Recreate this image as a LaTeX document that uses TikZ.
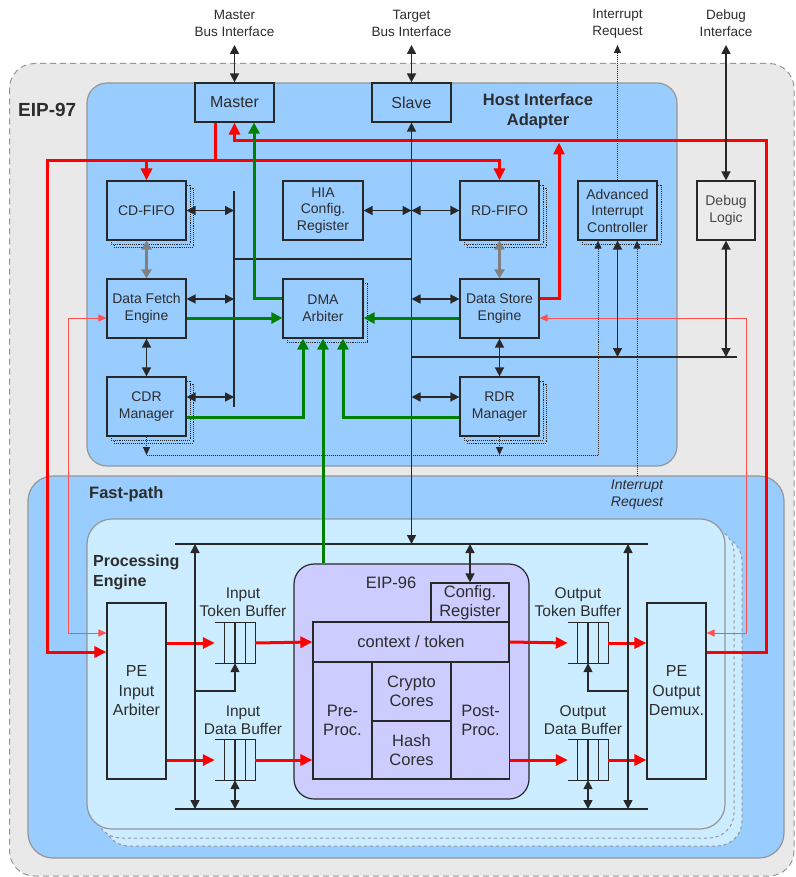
\documentclass[tikz,border=0pt]{standalone}
\usepackage{fontspec}
\setmainfont{Liberation Sans}
\usetikzlibrary{arrows.meta,calc}
\definecolor{outerbg}{RGB}{233,233,233}
\definecolor{hiabg}{RGB}{153,204,255}
\definecolor{pebg}{RGB}{204,236,255}
\definecolor{eipbg}{RGB}{204,204,255}
\definecolor{txt}{RGB}{45,45,45}
\definecolor{brd}{RGB}{40,40,40}
\definecolor{grn}{RGB}{0,128,0}
\definecolor{rd}{RGB}{255,0,0}
\definecolor{thinrd}{RGB}{255,80,80}
\definecolor{cgray}{RGB}{150,150,150}
\definecolor{arrgray}{RGB}{128,128,128}
\definecolor{dbgbg}{RGB}{235,235,235}
\newcommand\shrect[6]{\draw[#6] ({#1-#3/2+#5},{#2-#4/2+#5}) rectangle ({#1+#3/2+#5},{#2+#4/2+#5});}
\newcommand\fifobuf[3]{%
  \node[fifo] (#1) at (#2,#3) {};
  \draw[fifoline] (#1.north west) -- (#1.north east) -- (#1.south east) -- (#1.south west)
    ($(#1.north west)!0.25!(#1.north east)$) -- ($(#1.south west)!0.25!(#1.south east)$)
    ($(#1.north west)!0.5!(#1.north east)$) -- ($(#1.south west)!0.5!(#1.south east)$)
    ($(#1.north west)!0.75!(#1.north east)$) -- ($(#1.south west)!0.75!(#1.south east)$);}
\tikzset{
  blk/.style={draw=brd, line width=1.2pt, fill=hiabg, text=txt, align=center, inner sep=0pt, font=\fontsize{14}{16.5}\selectfont},
  eipblk/.style={draw=brd, line width=1.2pt, fill=eipbg, text=txt, align=center, inner sep=0pt, font=\fontsize{16.5}{19.5}\selectfont},
  peblk/.style={draw=brd, line width=1.2pt, fill=pebg, text=txt, align=center, inner sep=0pt, font=\fontsize{16}{19.5}\selectfont},
  lbl/.style={text=txt, align=center, inner sep=0pt, font=\fontsize{13.5}{17}\selectfont},
  buflbl/.style={text=txt, align=center, inner sep=0pt, font=\fontsize{15.5}{18}\selectfont},
  title/.style={text=txt, align=left, inner sep=0pt, font=\bfseries\fontsize{16.5}{20}\selectfont},
  stackline/.style={draw=brd, densely dotted, line width=0.9pt, fill=hiabg},
  fifo/.style={minimum width=40pt, minimum height=40pt, inner sep=0pt},
  fifoline/.style={draw=brd, line width=1.1pt},
  busline/.style={line width=1.5pt, draw=brd},
  blackarr/.style={line width=1.5pt, draw=brd, {Triangle[length=9pt,width=9pt]}-{Triangle[length=9pt,width=9pt]}},
  blackone/.style={line width=1.5pt, draw=brd, -{Triangle[length=9pt,width=9pt]}},
  redline/.style={line width=3pt, draw=rd},
  redarr/.style={line width=3pt, draw=rd, -{Triangle[length=12pt,width=11pt]}},
  grnarr/.style={line width=3pt, draw=grn, -{Triangle[length=11pt,width=11pt]}},
  thinred/.style={line width=1pt, draw=thinrd, {Triangle[length=8pt,width=7pt]}-{Triangle[length=8pt,width=7pt]}},
  grayarr/.style={line width=3pt, draw=arrgray, {Triangle[length=9pt,width=10pt]}-{Triangle[length=9pt,width=10pt]}},
  dotarr/.style={line width=1pt, densely dotted, draw=brd, -{Triangle[length=8pt,width=7pt]}},
  dotline/.style={line width=1pt, densely dotted, draw=brd}
}
\begin{document}
\begin{tikzpicture}[x=1pt,y=-1pt]
\useasboundingbox (0,0) rectangle (795,877);
% containers
\draw[fill=outerbg, draw=cgray, line width=1pt, dash pattern=on 6pt off 4pt, rounded corners=25pt] (9.5,63.5) rectangle (794,876);
\draw[fill=hiabg, draw=cgray, line width=1.2pt, rounded corners=20pt] (87,83) rectangle (677,466);
\draw[fill=hiabg, draw=cgray, line width=1.2pt, rounded corners=25pt] (28,476) rectangle (784,858);
\draw[fill=pebg, draw=cgray, line width=1pt, dashed, rounded corners=25pt] (104,536) rectangle (742,846);
\draw[fill=pebg, draw=cgray, line width=1pt, dashed, rounded corners=25pt] (96,528) rectangle (734,838);
\draw[fill=pebg, draw=cgray, line width=1.2pt, rounded corners=25pt] (87,519) rectangle (725,829);
\node[draw=brd, line width=1.2pt, fill=eipbg, rounded corners=20pt, minimum width=235pt, minimum height=235pt, inner sep=0pt] (eip) at (411.5,681.5) {};

% titles
\node[title, anchor=west, font=\bfseries\fontsize{19}{22}\selectfont] (t97) at (18,110) {EIP-97};
\node[title, align=center] (thia) at (538,111) {Host Interface\\Adapter};
\node[title, anchor=west] (tfp) at (89,494) {Fast-path};
\node[title, anchor=west, font=\bfseries\fontsize{16}{20}\selectfont] (tpe) at (93,572) {Processing\\Engine};
\node[text=txt, inner sep=0pt, font=\fontsize{16.5}{18}\selectfont] (t96) at (391,583) {EIP-96};

% external labels
\node[lbl] (lmaster) at (234.5,23.5) {Master\\Bus Interface};
\node[lbl] (ltarget) at (411.5,23.5) {Target\\Bus Interface};
\node[lbl] (lirq) at (617.5,23.5) {Interrupt\\Request};
\node[lbl] (ldbg) at (726,23.5) {Debug\\Interface};
\node[lbl, font=\itshape\fontsize{14}{17}\selectfont] (lirq2) at (637,495) {Interrupt\\Request};

% HIA blocks
\node[blk, minimum width=79pt, minimum height=39pt, font=\fontsize{16}{18}\selectfont] (master) at (234.5,102.5) {Master};
\node[blk, minimum width=79pt, minimum height=39pt, font=\fontsize{16}{18}\selectfont] (slave) at (411.5,102.5) {Slave};

\shrect{146.5}{210.5}{79}{59}{7}{stackline}
\shrect{146.5}{210.5}{79}{59}{4}{stackline}
\node[blk, minimum width=79pt, minimum height=59pt] (cdfifo) at (146.5,210.5) {CD-FIFO};
\node[blk, minimum width=80pt, minimum height=59pt] (hiacfg) at (323,210.5) {HIA\\Config.\\Register};
\shrect{499.5}{210.5}{79}{59}{7}{stackline}
\shrect{499.5}{210.5}{79}{59}{4}{stackline}
\node[blk, minimum width=79pt, minimum height=59pt] (rdfifo) at (499.5,210.5) {RD-FIFO};
\shrect{617.5}{210.5}{79}{59}{4}{stackline}
\node[blk, minimum width=79pt, minimum height=59pt] (aic) at (617.5,210.5) {Advanced\\Interrupt\\Controller};
\node[blk, fill=dbgbg, minimum width=58pt, minimum height=59pt, text={rgb,255:red,70;green,70;blue,70}] (debug) at (726,210.5) {Debug\\Logic};

\node[blk, minimum width=79pt, minimum height=59pt] (dfe) at (146.5,308.5) {Data Fetch\\Engine};
\shrect{323}{308.5}{80}{59}{4}{stackline}
\node[blk, minimum width=80pt, minimum height=59pt] (dma) at (323,308.5) {DMA\\Arbiter};
\node[blk, minimum width=79pt, minimum height=59pt] (dse) at (499.5,308.5) {Data Store\\Engine};

\shrect{146.5}{406.5}{79}{59}{7}{stackline}
\shrect{146.5}{406.5}{79}{59}{4}{stackline}
\node[blk, minimum width=79pt, minimum height=59pt] (cdr) at (146.5,406.5) {CDR\\Manager};
\shrect{499.5}{406.5}{79}{59}{7}{stackline}
\shrect{499.5}{406.5}{79}{59}{4}{stackline}
\node[blk, minimum width=79pt, minimum height=59pt] (rdr) at (499.5,406.5) {RDR\\Manager};

% EIP-96 internals
\node[eipblk, minimum width=78pt, minimum height=39pt] (cfgreg) at (470,602.5) {Config.\\Register};
\node[eipblk, minimum width=196pt, minimum height=40pt] (ctx) at (411,642) {context / token};
\node[eipblk, minimum width=59pt, minimum height=117pt] (pre) at (342.5,720.5) {Pre-\\Proc.};
\node[eipblk, minimum width=79pt, minimum height=59pt] (crypto) at (411.5,691.5) {Crypto\\Cores};
\node[eipblk, minimum width=79pt, minimum height=58pt] (hash) at (411.5,750) {Hash\\Cores};
\node[eipblk, minimum width=58pt, minimum height=117pt] (post) at (480.5,720.5) {Post-\\Proc.};

% PE blocks
\node[peblk, minimum width=59pt, minimum height=176pt] (peia) at (136.5,691) {PE\\Input\\Arbiter};
\node[peblk, minimum width=59pt, minimum height=176pt] (peod) at (676.5,691) {PE\\Output\\Demux.};

% buffers
\fifobuf{ibt}{235}{643}
\fifobuf{ibd}{235}{760}
\fifobuf{obt}{588}{643}
\fifobuf{obd}{588}{760}
\node[buflbl] (libt) at (243,602) {Input\\Token Buffer};
\node[buflbl] (libd) at (243,720) {Input\\Data Buffer};
\node[buflbl] (lobt) at (578,602) {Output\\Token Buffer};
\node[buflbl] (lobd) at (583,720) {Output\\Data Buffer};

% ---------------- red paths
\draw[redline] (master.south -| 215,0) -- (215,161);
\draw[redarr] (215,161) -| (rdfifo.north);
\draw[redarr] (215,161) -| (cdfifo.north);
\draw[redarr] (146.5,161) -- (47,161) -- (47,652) -- (peia.west |- 0,652);
\draw[redarr] (peod.east |- 0,652) -- (766,652) -- (766,141) -| (master.south);
\draw[redarr] (dse.east |- 0,298) -| (559,142.5);
\draw[thinred] (dfe.west |- 0,318) -- (68,318) -- (68,633) -- (peia.west |- 0,633);
\draw[thinred] (dse.east |- 0,318) -- (746,318) -- (746,633) -- (peod.east |- 0,633);
\draw[redarr] (peia.east |- 0,643) -- (ibt.west);
\draw[redarr] (ibt.east) -- (ctx.west);
\draw[redarr] (peia.east |- 0,760) -- (ibd.west);
\draw[redarr] (ibd.east) -- (pre.west |- 0,760);
\draw[redarr] (ctx.east) -- (obt.west);
\draw[redarr] (obt.east) -- (peod.west |- 0,643);
\draw[redarr] (post.east |- 0,760) -- (obd.west);
\draw[redarr] (obd.east) -- (peod.west |- 0,760);

% ---------------- black buses and arrows
\coordinate (busL1) at (234,191);
\coordinate (busL2) at (234,407);
\draw[busline] (busL1) -- (busL2);
\draw[busline] (234,259) -- (411,259);
\draw[busline] (411,357) -- (737,357);
\draw[blackarr] (slave.south) -- (411.5,544);
\draw[blackarr] (master.north) -- (234.5,45);
\draw[blackarr] (slave.north) -- (411.5,45);
\draw[blackarr] (debug.north) -- (726,45);
\draw[dotarr] (aic.north) -- (617.5,45);
\draw[blackarr] (cdfifo.east) -- (234,210.5);
\draw[blackarr] (hiacfg.east) -- (411.5,210.5);
\draw[blackarr] (411.5,210.5) -- (rdfifo.west);
\draw[blackarr] (dfe.east |- 0,299) -- (234,299);
\draw[blackarr] (411.5,299) -- (dse.west |- 0,299);
\draw[blackarr] (cdr.east |- 0,397) -- (234,397);
\draw[blackarr] (411.5,397) -- (rdr.west |- 0,397);
\draw[grayarr] (cdfifo.south) -- (dfe.north);
\draw[grayarr] (rdfifo.south) -- (dse.north);
\draw[blackarr] (dfe.south) -- (cdr.north);
\draw[blackarr] (dse.south) -- (rdr.north);
\draw[blackarr] (aic.south) -- (617.5,357);
\draw[blackarr] (debug.south) -- (726,357);

% PE buses
\draw[busline] (175,544) -- (648,544);
\draw[busline] (175,809) -- (648,809);
\draw[blackarr] (195,544) -- (195,809);
\draw[blackarr] (628,544) -- (628,809);
\draw[blackone] (195,691) -| (ibt.south);
\draw[blackone] (628,691) -| (obt.south);
\draw[blackarr] (ibd.south) -- (235,809);
\draw[blackarr] (obd.south) -- (588,809);
\draw[blackarr] (470,544) -- (cfgreg.north);

% ---------------- green paths
\draw[grnarr] (dma.west |- 0,298) -| (master.south -| 254,0);
\draw[grnarr] (dfe.east |- 0,318) -- (dma.west |- 0,318);
\draw[grnarr] (dse.west |- 0,318) -- (dma.east |- 0,318);
\draw[grnarr] (cdr.east |- 0,417) -| (dma.south -| 303,0);
\draw[grnarr] (rdr.west |- 0,417) -| (dma.south -| 343,0);
\draw[grnarr] (dma.south |- eip.north) -- (dma.south);

% ---------------- dotted interrupt paths
\draw[dotarr] (cdr.south) -- (146.5,455);
\draw[dotarr] (rdr.south) -- (499.5,455);
\draw[dotarr] (146.5,455) -| (aic.south -| 598,0);
\draw[dotarr] (637,476) -- (aic.south -| 637,0);
\end{tikzpicture}
\end{document}
